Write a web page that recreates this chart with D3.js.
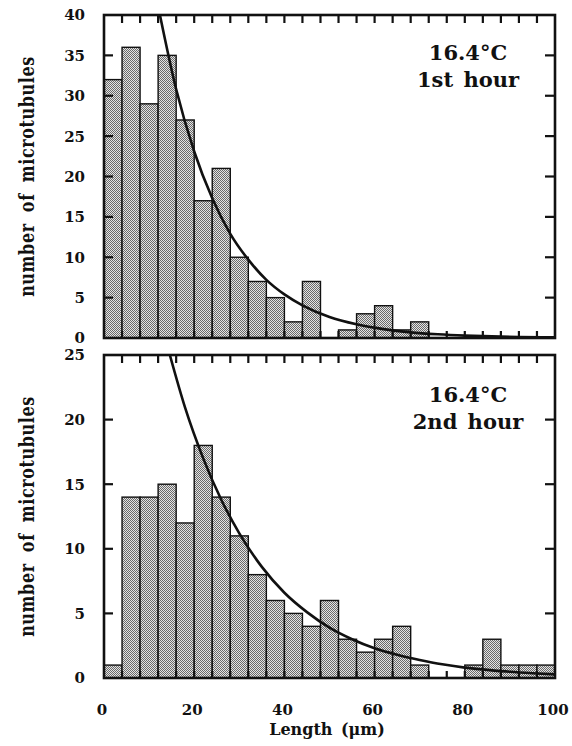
<!DOCTYPE html>
<html><head><meta charset="utf-8">
<script src="https://cdn.jsdelivr.net/npm/d3@7"></script>
<style>body{margin:0;background:#fff}svg{display:block}</style>
</head><body>
<svg id="c" width="572" height="746"></svg>
<script>
// ---- data ----
const binStarts = d3.range(0, 100, 4);           // 4 µm bins
const counts1 = [32,36,29,35,27,17,21,10,7,5,2,7,0,1,3,4,1,2,0,0,0,0,0,0,0];
const counts2 = [1,14,14,15,12,18,14,11,8,6,5,4,6,3,2,3,4,1,0,0,1,3,1,1,1];
// fitted curves: [length, count]
const curve1 = [[12.4,40],[16,30.8],[20,23.1],[24,17.3],[28,12.9],[32,9.7],[36,7.2],[40,5.4],[44,4.05],[50,2.6],[56,1.7],[62,1.1],[68,0.7],[74,0.46],[80,0.3],[86,0.2],[92,0.13],[100,0.08]];
const curve2 = [[14.6,25],[18,20.9],[22,17.0],[26,13.8],[30,11.2],[35,8.6],[40,6.6],[45,5.1],[50,3.9],[55,3.0],[60,2.3],[65,1.8],[70,1.4],[75,1.06],[80,0.8],[85,0.63],[90,0.48],[95,0.37],[100,0.28]];
const xTicks = [0,20,40,60,80,100];
const yTicks1 = [0,5,10,15,20,25,30,35,40];
const yTicks2 = [0,5,10,15,20,25];
const labels1 = ["16.4°C","1st hour"];
const labels2 = ["16.4°C","2nd hour"];
const yTitle = "number of microtubules";
const xTitle = "Length (μm)";

const svg = d3.select("#c");
const FONT = "DejaVu Serif";
const defs = svg.append("defs");
const pat = defs.append("pattern").attr("id","stip").attr("width",2).attr("height",2)
  .attr("patternUnits","userSpaceOnUse");
pat.append("rect").attr("width",2).attr("height",2).attr("fill","#e4e4e4");
pat.append("rect").attr("x",0).attr("y",0).attr("width",1).attr("height",1).attr("fill","#6a6a6a");
pat.append("rect").attr("x",1).attr("y",1).attr("width",1).attr("height",1).attr("fill","#6a6a6a");

const L = 104, R = 555;
const x = d3.scaleLinear().domain([0,100]).range([L,R]);

function panel(id, top, bottom, ymax, counts, curve, yTicks, labels, labelY){
  const y = d3.scaleLinear().domain([0,ymax]).range([bottom, top]);
  const g = svg.append("g");
  defs.append("clipPath").attr("id","clip"+id).append("rect")
    .attr("x",L).attr("y",top).attr("width",R-L).attr("height",bottom-top);
  // bars
  g.selectAll("rect.bar").data(counts.map((c,i)=>({x0:binStarts[i],c})).filter(d=>d.c>0))
    .join("rect").attr("class","bar")
    .attr("x",d=>x(d.x0)).attr("width",d=>x(d.x0+4)-x(d.x0))
    .attr("y",d=>y(d.c)).attr("height",d=>y(0)-y(d.c))
    .attr("fill","url(#stip)").attr("stroke","#111").attr("stroke-width",1.4);
  // curve
  g.append("path").datum(curve).attr("clip-path","url(#clip"+id+")")
    .attr("d", d3.line().x(d=>x(d[0])).y(d=>y(d[1])).curve(d3.curveMonotoneX))
    .attr("fill","none").attr("stroke","#111").attr("stroke-width",2.6);
  // inner ticks top & bottom (every 4)
  const tk = d3.range(4,100,4);
  g.selectAll("line.tt").data(tk).join("line")
    .attr("x1",d=>x(d)).attr("x2",d=>x(d)).attr("y1",top).attr("y2",top+8)
    .attr("stroke","#111").attr("stroke-width",2.2);
  g.selectAll("line.tb").data(tk).join("line")
    .attr("x1",d=>x(d)).attr("x2",d=>x(d)).attr("y1",bottom).attr("y2",bottom-7)
    .attr("stroke","#111").attr("stroke-width",2.2);
  // left/right ticks
  const yt = yTicks.filter(v=>v>0 && v<ymax);
  g.selectAll("line.tl").data(yt).join("line")
    .attr("x1",L).attr("x2",L+9).attr("y1",d=>y(d)).attr("y2",d=>y(d))
    .attr("stroke","#111").attr("stroke-width",2.2);
  g.selectAll("line.tr").data(yt).join("line")
    .attr("x1",R).attr("x2",R-10).attr("y1",d=>y(d)).attr("y2",d=>y(d))
    .attr("stroke","#111").attr("stroke-width",2.2);
  // frame
  g.append("rect").attr("x",L).attr("y",top).attr("width",R-L).attr("height",bottom-top)
    .attr("fill","none").attr("stroke","#111").attr("stroke-width",2.6);
  // y labels
  g.selectAll("text.yl").data(yTicks).join("text")
    .attr("x",85).attr("y",d=>y(d)).attr("dy","0.36em").attr("text-anchor","end")
    .attr("font-family",FONT).attr("font-weight","bold").attr("font-size",15).attr("fill","#111")
    .text(d=>d);
  // y title
  g.append("text").attr("transform",`translate(34,${(top+bottom)/2}) scale(1.3,1) rotate(-90)`)
    .attr("text-anchor","middle").attr("font-family",FONT).attr("font-weight","bold")
    .attr("font-size",16).attr("letter-spacing",0.6).attr("word-spacing",5).attr("fill","#111")
    .text(yTitle);
  // annotation
  g.selectAll("text.an").data(labels).join("text")
    .attr("x",468).attr("y",(d,i)=>labelY[i]).attr("text-anchor","middle")
    .attr("font-family",FONT).attr("font-weight","bold").attr("font-size",21)
    .attr("word-spacing",3).attr("fill","#111").text(d=>d);
  return y;
}
panel(1, 15, 338, 40, counts1, curve1, yTicks1, labels1, [60,87]);
panel(2, 355, 678, 25, counts2, curve2, yTicks2, labels2, [402,429]);

// x tick labels
svg.selectAll("text.xl").data(xTicks).join("text")
  .attr("x",d=>x(d)-2).attr("y",715).attr("text-anchor","middle")
  .attr("font-family",FONT).attr("font-weight","bold").attr("font-size",15).attr("fill","#111")
  .text(d=>d);
svg.append("text").attr("x",327).attr("y",735).attr("text-anchor","middle")
  .attr("font-family",FONT).attr("font-weight","bold").attr("font-size",16)
  .attr("word-spacing",3).attr("fill","#111").text(xTitle);
</script>
</body></html>
